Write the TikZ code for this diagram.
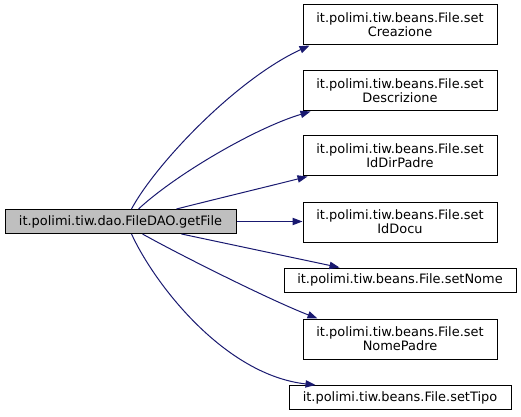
\documentclass[tikz,border=0pt]{standalone}
\usepackage{fontspec}
\setmainfont{DejaVu Sans}
\usetikzlibrary{arrows.meta,calc}
\definecolor{edgeblue}{HTML}{191970}
\definecolor{mainfill}{HTML}{BFBFBF}
\tikzset{
  fnbox/.style={draw=black,line width=0.75pt,fill=white,align=center,inner sep=0pt,
    font=\fontsize{9.7}{10.5}\selectfont, minimum width=145.5pt, minimum height=30pt},
  onebox/.style={fnbox, minimum height=18pt},
  calledge/.style={draw=edgeblue,line width=0.75pt,-{Triangle[length=7.5pt,width=5.5pt]}}
}
\begin{document}
\begin{tikzpicture}[x=0.75pt,y=-0.75pt]
\useasboundingbox (0,0) rectangle (521,417);
\node[onebox,fill=mainfill,minimum width=173.25pt] (main) at (120.5,221.5) {it.polimi.tiw.dao.FileDAO.getFile};
\node[fnbox] (c1) at (400,25) {it.polimi.tiw.beans.File.set\\Creazione};
\node[fnbox] (c2) at (400,91) {it.polimi.tiw.beans.File.set\\Descrizione};
\node[fnbox] (c3) at (400,156) {it.polimi.tiw.beans.File.set\\IdDirPadre};
\node[fnbox] (c4) at (400,222) {it.polimi.tiw.beans.File.set\\IdDocu};
\node[onebox,minimum width=174pt] (c5) at (400,280) {it.polimi.tiw.beans.File.setNome};
\node[fnbox] (c6) at (400,339) {it.polimi.tiw.beans.File.set\\NomePadre};
\node[onebox,minimum width=166.5pt] (c7) at (400,397.5) {it.polimi.tiw.beans.File.setTipo};

\draw[calledge] ($(main.north west)+(127,0)$) .. controls (155,165) and (235,80) .. ($(c1.south west)+(7,0)$);
\draw[calledge] ($(main.north west)+(134,0)$) .. controls (175,175) and (255,128) .. ($(c2.south west)+(8,0)$);
\draw[calledge] ($(main.north west)+(172,0)$) .. controls (220,198) and (270,186) .. ($(c3.south west)+(5,0)$);
\draw[calledge] (main.east) -- (main.east -| c4.west);
\draw[calledge] ($(main.south west)+(177,0)$) -- ($(c5.north west)+(56,0)$);
\draw[calledge] ($(main.south west)+(138,0)$) .. controls (180,255) and (270,300) .. ($(c6.north west)+(15,0)$);
\draw[calledge] ($(main.south west)+(127,0)$) .. controls (155,285) and (225,375) .. ($(c7.north west)+(27,0)$);
\end{tikzpicture}
\end{document}
